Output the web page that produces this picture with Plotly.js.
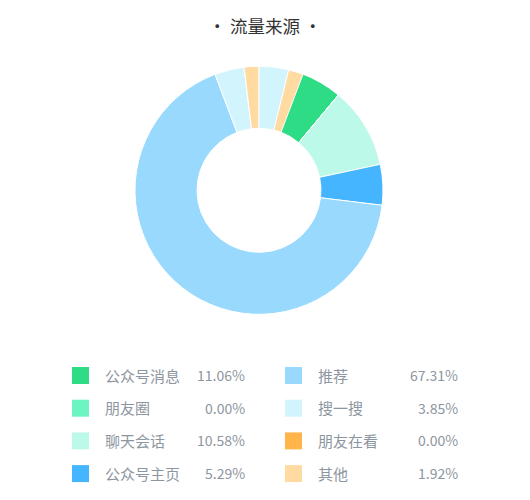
<!DOCTYPE html>
<html>
<head>
<meta charset="utf-8">
<script src="https://cdn.plot.ly/plotly-3.0.1.min.js"></script>
<style>html,body{margin:0;padding:0;background:#fff;}#chart{width:530px;height:500px;}</style>
</head>
<body>
<div id="chart"></div>
<script>
var categories = ["公众号消息", "朋友圈", "聊天会话", "公众号主页", "推荐", "搜一搜", "朋友在看", "其他"];
var shares = [11.06, 0.00, 10.58, 5.29, 67.31, 3.85, 0.00, 1.92];
var colors = ["#2fdc86", "#6cf5c2", "#bcf9e9", "#45b5ff", "#98d9fd", "#d2f4fd", "#ffb54c", "#ffdba2"];
var titleText = "· 流量来源 ·";
// slices drawn a second time at the start of the ring in the reference
var repeated = ["搜一搜", "其他"];

var FONT = "'Noto Sans CJK SC', 'Noto Sans', sans-serif";
var dom = {x: [135/530, 383/530], y: [(309.7-124)/500, (309.7+124)/500]};

var main = {
  type: "pie", values: shares, labels: categories, sort: false, direction: "clockwise",
  rotation: 0, hole: 0.5, domain: dom, textinfo: "none", hoverinfo: "none", showlegend: false,
  marker: {colors: colors, line: {color: "#ffffff", width: 1}}
};

var repVals = repeated.map(function(n){ return shares[categories.indexOf(n)]; });
var repCols = repeated.map(function(n){ return colors[categories.indexOf(n)]; });
var rest = 100 - repVals.reduce(function(a,b){return a+b;}, 0);
var overlay = {
  type: "pie", values: repVals.concat([rest]), labels: repeated.concat(["_rest"]), sort: false,
  direction: "clockwise", rotation: 0, hole: 0.5, domain: dom, textinfo: "none", hoverinfo: "none",
  showlegend: false,
  marker: {colors: repCols.concat(["rgba(0,0,0,0)"]), line: {color: ["#ffffff", "#ffffff", "rgba(0,0,0,0)"], width: 1}}
};

var shapes = [], annotations = [];
var rowY = [375.5, 408.2, 440.9, 473.6];
var cols = [{sq: 72, lab: 103, pct: 246.5}, {sq: 285, lab: 316, pct: 460}];
categories.forEach(function(name, i){
  var c = cols[Math.floor(i/4)], yc = rowY[i%4];
  shapes.push({type: "rect", xref: "paper", yref: "paper",
    x0: c.sq/530, x1: (c.sq+17)/530, y0: 1-(yc+8.5)/500, y1: 1-(yc-8.5)/500,
    fillcolor: colors[i], line: {width: 0}});
  annotations.push({xref: "paper", yref: "paper", x: c.lab/530, y: 1-(yc-0.5)/500, xanchor: "left", yanchor: "middle",
    text: name, showarrow: false, font: {family: FONT, size: 15, color: "#8d96a0"}});
  annotations.push({xref: "paper", yref: "paper", x: c.pct/530, y: 1-(yc-0.5)/500, xanchor: "right", yanchor: "middle",
    text: shares[i].toFixed(2) + "%", showarrow: false, font: {family: FONT, size: 14, color: "#8d96a0"}});
});

var layout = {
  width: 530, height: 500, margin: {l: 0, r: 0, t: 0, b: 0},
  paper_bgcolor: "#ffffff", plot_bgcolor: "#ffffff",
  title: {text: titleText, x: 0.5, xanchor: "center", y: 1-27/500, yanchor: "middle",
    font: {family: FONT, size: 17.5, color: "#333333"}},
  shapes: shapes, annotations: annotations
};
Plotly.newPlot("chart", [main, overlay], layout, {staticPlot: true, displayModeBar: false});
</script>
</body>
</html>
